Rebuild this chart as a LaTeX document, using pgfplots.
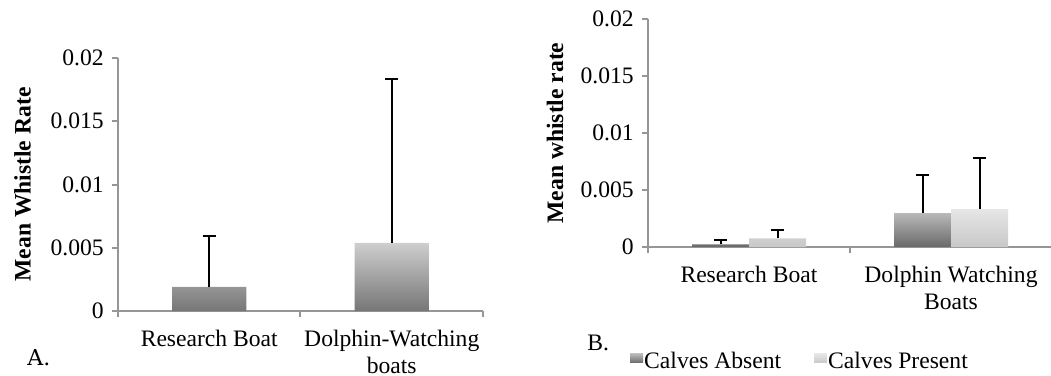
\documentclass[border=0pt]{standalone}
\usepackage{pgfplots}
\pgfplotsset{compat=1.18}
\usepackage{fontspec}
\setmainfont{Liberation Serif}
\newfontfamily\afont{DejaVu Serif}
\definecolor{axgray}{RGB}{150,150,150}
\definecolor{aTop}{RGB}{206,206,206}
\definecolor{aBot}{RGB}{118,118,118}
\definecolor{absTop}{RGB}{185,185,185}
\definecolor{absBot}{RGB}{105,105,105}
\definecolor{preTop}{RGB}{230,230,230}
\definecolor{preBot}{RGB}{200,200,200}
\begin{document}
\fontsize{11.8bp}{13.5bp}\selectfont
\begin{tikzpicture}
\useasboundingbox (0,0) rectangle (525.5bp,188bp);
\pgfplotsset{
  panel/.style={
    scale only axis,
    axis lines*=left,
    axis line style={draw=axgray, line width=1bp},
    ymin=0, ymax=0.02, xmin=-0.5, xmax=1.5,
    ytick={0,0.005,0.01,0.015,0.02},
    yticklabels={\mbox{0},\mbox{0.005},\mbox{0.01},\mbox{0.015},\mbox{0.02}},
    scaled y ticks=false,
    xtick={-0.5,0.5,1.5},
    xticklabels={,,},
    tick align=outside, xtick pos=left, ytick pos=left,
    major tick length=3bp,
    tick style={draw=axgray, line width=1bp},
    xticklabel style={align=center, anchor=north, yshift=-5.5bp},
    ylabel style={font=\bfseries, anchor=center, at={(rel axis cs:0,0.5)}},
    clip=false,
  },
  errs/.style={error bars/.cd, y dir=plus, y explicit,
    error bar style={draw=black, line width=1bp},
    error mark options={draw=black, line width=1bp, mark size=3.25bp, rotate=90}},
}
% Panel A
\begin{axis}[panel,
  at={(59bp,32.5bp)}, anchor=south west,
  width=182.5bp, height=126.5bp,
  extra x ticks={0,1},
  extra x tick labels={Research Boat,{Dolphin-Watching\\boats}},
  extra x tick style={major tick length=0pt, tick style={draw=none}},
  ylabel={Mean Whistle Rate},
  ylabel style={yshift=47.75bp},
  ybar, bar width=37bp,
]
\addplot[draw=none, top color=aTop, bottom color=aBot, errs]
  coordinates {(0,0.0019) +- (0,0.0040) (1,0.00538) +- (0,0.01296)};
\end{axis}
% Panel B
\begin{axis}[panel,
  at={(324bp,64.5bp)}, anchor=south west,
  width=202bp, height=114bp,
  extra x ticks={0,1},
  extra x tick labels={Research Boat,{Dolphin Watching\\Boats}},
  extra x tick style={major tick length=0pt, tick style={draw=none}},
  ylabel={Mean whistle rate},
  ylabel style={yshift=46.5bp},
  ybar=0pt, bar width=28.5bp,
  legend style={draw=none, fill=none, at={(-0.045,-0.504)}, anchor=west,
    legend columns=2, inner sep=0pt, row sep=0pt,
    nodes={inner sep=0.5bp, anchor=west},
    /tikz/every even column/.append style={column sep=16bp}},
  legend image code/.code={\path[#1, draw=none] (0bp,-0.5bp) rectangle (6.5bp,4bp);},
]
\addplot[draw=none, top color=absTop, bottom color=absBot, errs]
  coordinates {(0,0.00024) +- (0,0.00035) (1,0.00298) +- (0,0.00333)};
\addplot[draw=none, top color=preTop, bottom color=preBot, errs]
  coordinates {(0,0.00076) +- (0,0.0007) (1,0.00333) +- (0,0.0045)};
\legend{Calves Absent, Calves Present}
\end{axis}
\node[anchor=base west, inner sep=0pt, font=\afont\fontsize{11bp}{13bp}\selectfont] at (13.5bp,5.5bp) {A.};
\node[anchor=base west, inner sep=0pt] at (293.5bp,13bp) {B.};
\end{tikzpicture}
\end{document}
